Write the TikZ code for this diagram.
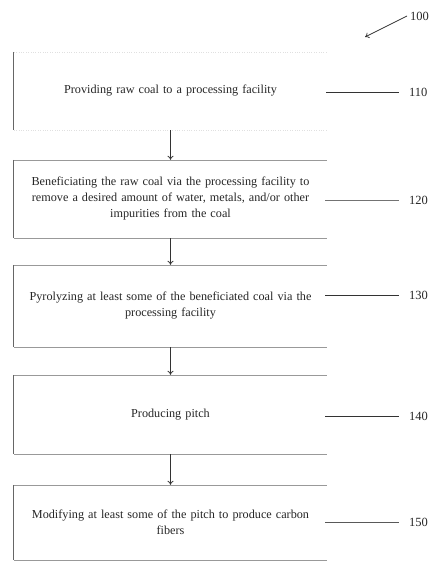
\documentclass[tikz,border=0pt]{standalone}
\usepackage{fontspec}
\setmainfont{Liberation Serif}
\usetikzlibrary{arrows.meta}
\begin{document}
\begin{tikzpicture}[x=1pt,y=-1pt,
  stepbox/.style={draw=none, minimum width=313pt, align=center, text=black!85,
    font=\fontsize{12.2}{16}\selectfont, inner sep=0pt, text width=310pt},
  leftedge/.style={draw=black!60, line width=0.8pt},
  flatedge/.style={draw=black!40, line width=0.5pt},
  leader/.style={draw=black!80, line width=0.8pt},
  num/.style={font=\fontsize{12.5}{14}\selectfont, text=black!85, inner sep=1pt, anchor=west},
  flow/.style={draw=black!80, line width=0.8pt, -{To[length=4pt,width=6pt]}}]
\useasboundingbox (0,0) rectangle (430,561);
% boxes
\node[stepbox, minimum height=78pt] (b1) at (170.5,91) {\raisebox{-2pt}{Providing raw coal to a processing facility}};
\node[stepbox, minimum height=78pt] (b2) at (170.5,199) {Beneficiating the raw coal via the processing facility to\\ remove a desired amount of water, metals, and/or other\\ impurities from the coal};
\node[stepbox, minimum height=82pt] (b3) at (170.5,306) {Pyrolyzing at least some of the beneficiated coal via the\\ processing facility\\[20pt]};
\node[stepbox, minimum height=79pt] (b4) at (170.5,414.5) {Producing pitch};
\node[stepbox, minimum height=75pt] (b5) at (170.5,522.5) {Modifying at least some of the pitch to produce carbon\\ fibers};
% box edges
\foreach \b in {b1,b2,b3,b4,b5}{
  \draw[leftedge] (\b.north west) -- (\b.south west);
}
\foreach \b in {b2,b3,b4,b5}{
  \draw[flatedge] (\b.north west) -- (\b.north east);
  \draw[flatedge] (\b.south west) -- (\b.south east);
}
\draw[draw=black!12, line width=0.4pt, dotted] (b1.north west) -- (b1.north east);
\draw[draw=black!12, line width=0.4pt, dotted] (b1.south west) -- (b1.south east);
% flow arrows
\draw[flow] (b1.south) -- (b2.north);
\draw[flow] (b2.south) -- (b3.north);
\draw[flow] (b3.south) -- (b4.north);
\draw[flow] (b4.south) -- (b5.north);
% reference numerals
\node[num] (n110) at (408,92) {110};
\node[num] (n120) at (408,200) {120};
\node[num] (n130) at (408,295) {130};
\node[num] (n140) at (408,416) {140};
\node[num] (n150) at (408,522) {150};
\draw[leader] ([xshift=-1pt]b1.east |- n110.west) -- ([xshift=-9pt]n110.west);
\draw[leader, draw=black!55] ([xshift=-2pt]b2.east |- n120.west) -- ([xshift=-9pt]n120.west);
\draw[leader] ([xshift=-2pt]b3.east |- n130.west) -- ([xshift=-9pt]n130.west);
\draw[leader] ([xshift=-2pt]b4.east |- n140.west) -- ([xshift=-9pt]n140.west);
\draw[leader, draw=black!65] ([xshift=-2pt]b5.east |- n150.west) -- ([xshift=-9pt]n150.west);
% figure number
\node[num] (n100) at (409,16) {100};
\coordinate (a100) at (365,37);
\draw[draw=black!80, line width=0.7pt, -{To[length=4pt,width=6pt]}] ([xshift=-2pt]n100.west) -- (a100);
\end{tikzpicture}
\end{document}
